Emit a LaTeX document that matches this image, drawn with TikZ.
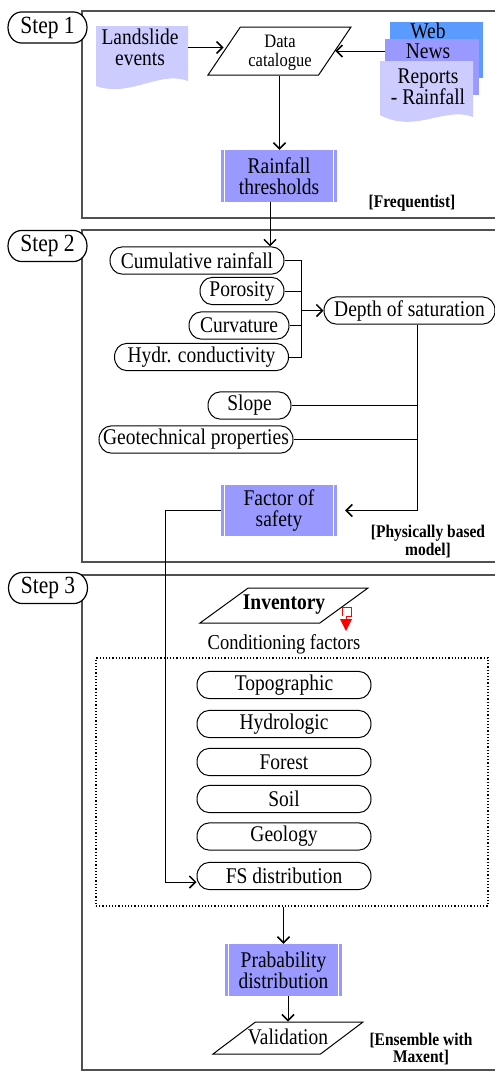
\documentclass[tikz,border=0pt]{standalone}
\usepackage{fontspec}
\setmainfont{Liberation Serif}
\usetikzlibrary{shapes.misc,shapes.geometric,arrows.meta,calc}
\definecolor{docfill}{HTML}{CCCCFF}
\definecolor{procfill}{HTML}{9999FF}
\definecolor{webfill}{HTML}{5B9BFF}
\definecolor{framecol}{HTML}{505050}
\tikzset{
  tall/.style={yscale=1.15, transform shape},
  fbig/.style={font=\fontsize{19.5}{18}\selectfont, tall},
  pill/.style={rounded rectangle, draw, fill=white, line width=1pt, minimum height=23.5pt, inner sep=0pt, fbig},
  stepbox/.style={rounded rectangle, draw, fill=white, line width=1.2pt, minimum width=79pt, minimum height=27pt, inner sep=0pt, font=\fontsize{21.5}{23}\selectfont, tall},
  arr/.style={line width=1pt, -{Straight Barb[length=6pt,width=12pt,line width=1.5pt]}},
  conn/.style={line width=1pt},
  frm/.style={draw=framecol, line width=1.6pt},
  procbox/.style={fill=procfill, minimum width=116pt, minimum height=45.2pt, inner sep=0pt, align=center, fbig},
  pgram/.style={trapezium, trapezium stretches body, draw, fill=white, line width=1pt, inner sep=0pt},
  docshape/.style={fill=docfill},
  notetext/.style={font=\fontsize{15.5}{14.8}\selectfont\bfseries, align=center, tall},
}
\newcommand{\sidebars}[1]{%
  \draw[white,line width=1.3pt] ([xshift=3.5pt]#1.north west) -- ([xshift=3.5pt]#1.south west);
  \draw[white,line width=1.3pt] ([xshift=-3.5pt]#1.north east) -- ([xshift=-3.5pt]#1.south east);}
\begin{document}
\begin{tikzpicture}[x=1pt,y=-1pt]
\useasboundingbox (0,0) rectangle (495,1071);
\clip (0,0) rectangle (495,1071);
\fill[white] (0,0) rectangle (495,1071);
% frames
\draw[frm] (82,11) rectangle (520,218);
\draw[frm] (82,230) rectangle (520,562);
\draw[frm] (82,575) rectangle (520,1070);
% step labels
\node[stepbox] (s1) at (47.5,27.5) {Step 1};
\node[stepbox] (s2) at (47.5,246) {Step 2};
\node[stepbox] (s3) at (48,588) {Step 3};

% ---------- Step 1
\path[docshape] (96,26) -- (188,26) -- (188,81) .. controls (160,70) and (130,98) .. (96,86) -- cycle;
\node[fbig, align=center, minimum width=92pt, inner sep=0pt] (le) at (140,47.5) {Landslide\\events};
\node[pgram, trapezium left angle=56, trapezium right angle=124, minimum width=143pt, text height=24pt, text depth=24pt] (dc) at (279.5,51) {};
\node[font=\fontsize{16.5}{16.5}\selectfont, align=center, tall] (dct) at (280,52.5) {Data\\catalogue};
\node[fill=webfill, minimum width=93pt, minimum height=56pt, inner sep=0pt] (web) at (436.5,50) {};
\node[fbig, inner ysep=0pt] (webt) at (428,31) {Web};
\node[fill=procfill, minimum width=94pt, minimum height=56pt, inner sep=0pt] (news) at (432,67) {};
\node[fbig, inner ysep=0pt] (newst) at (428,51) {News};
\path[docshape] (380,61) -- (473,61) -- (473,117) .. controls (445,106) and (415,134) .. (380,115) -- cycle;
\node[fbig, align=center] (rep) at (428,86.5) {Reports\\- Rainfall};
\draw[arr] (le.east -| 188,0) -- (le.east -| dc.west);
\draw[arr] (news.west |- dc.east) -- (dc.east);
\node[procbox] (rt) at (279,176) {Rainfall\\thresholds};
\sidebars{rt}
\draw[arr] (dc.south) -- (dc.south |- rt.north);
\node[notetext] (fq) at (412,203) {[Frequentist]};

% ---------- Step 2
\node[pill, minimum width=174pt] (cr) at (197,260.5) {Cumulative rainfall};
\node[pill, minimum width=84pt] (po) at (242,291) {Porosity};
\node[pill, minimum width=100pt] (cu) at (239,325.5) {Curvature};
\node[pill, minimum width=174pt] (hc) at (201.5,357) {Hydr. conductivity};
\node[pill, minimum width=171pt] (ds) at (409.5,310.5) {Depth of saturation};
\node[pill, minimum width=83pt] (sl) at (249.5,405.5) {Slope};
\node[pill, minimum width=194pt] (gp) at (196,439.5) {Geotechnical properties};
\node[procbox] (fos) at (279,510.5) {Factor of\\safety};
\sidebars{fos}
\node[notetext] (pb) at (428,541.5) {[Physically based\\model]};

\draw[arr] ([xshift=-9pt]rt.south) -- ([xshift=-9pt]rt.south |- cr.north);
\coordinate (bx) at (301,310.5);
\draw[conn] (cr.east) -- (cr.east -| bx) -- (hc.east -| bx) -- (hc.east);
\draw[conn] (po.east) -- (po.east -| bx);
\draw[conn] (cu.east) -- (cu.east -| bx);
\draw[arr] (bx) -- (ds.west);
\coordinate (dx) at (417,324);
\draw[arr] (ds.south -| dx) -- (dx |- fos.east) -- ([xshift=8pt]fos.east);
\draw[conn] (sl.east) -- (sl.east -| dx);
\draw[conn] (gp.east) -- (gp.east -| dx);

% ---------- Step 3
\node[pgram, trapezium left angle=36, trapezium right angle=144, minimum width=168pt, text height=17.5pt, text depth=17.5pt] (inv) at (284,605.5) {};
\node[font=\fontsize{19.5}{20}\selectfont\bfseries, tall] (invt) at (284,604.5) {Inventory};
\draw[red, line width=0.8pt] (342,616) -- (342,607) -- (351,607) -- (351,616) -- (346,616) -- (346,620);
\fill[red] (340,619) -- (352,619) -- (346,631) -- cycle;
\node[font=\fontsize{18.5}{20}\selectfont, tall] (cf) at (284,644) {Conditioning factors};
\node[draw, dotted, line width=1.2pt, minimum width=392pt, minimum height=248pt, inner sep=0pt] (cfbox) at (292,782) {};
\node[pill, minimum width=174pt] (topo) at (284,685) {Topographic};
\node[pill, minimum width=174pt] (hydro) at (284,724) {Hydrologic};
\node[pill, minimum width=174pt] (forest) at (284,762) {Forest};
\node[pill, minimum width=174pt] (soil) at (284,799) {Soil};
\node[pill, minimum width=174pt] (geo) at (284,836.5) {Geology};
\node[pill, minimum width=174pt] (fsd) at (284,876) {FS distribution};
\node[procbox, minimum width=117pt] (pd) at (283.5,970) {Prabability\\distribution};
\sidebars{pd}
\node[pgram, trapezium left angle=37, trapezium right angle=143, minimum width=150pt, text height=16pt, text depth=16pt] (val) at (288,1038) {};
\node[fbig] (valt) at (288,1037) {Validation};
\node[notetext] (ens) at (421,1049) {[Ensemble with\\Maxent]};

\coordinate (vx) at (165,0);
\coordinate (fsin) at ([yshift=-6pt]fsd.west);
\draw[arr] (fos.west) -| (vx |- fsin) -- (fsin);
\draw[arr] (cfbox.south -| pd.north) -- (pd.north);
\draw[arr] ([xshift=4.5pt]pd.south) -- ([xshift=4.5pt]pd.south |- val.north);
\end{tikzpicture}
\end{document}
